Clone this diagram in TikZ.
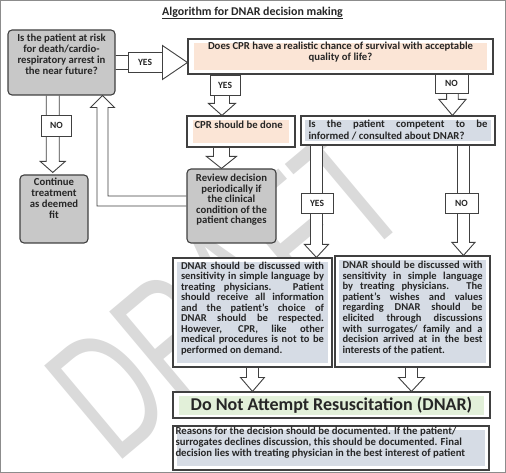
\documentclass[tikz,border=0pt]{standalone}
\usepackage{fontspec}
\setmainfont{Carlito}
\newfontfamily\wmfont{Liberation Sans}
\usetikzlibrary{calc}
\pgfdeclarelayer{wmlayer}
\pgfdeclarelayer{bglayer}
\pgfsetlayers{wmlayer,bglayer,main}
\definecolor{boxline}{HTML}{404040}
\definecolor{grayfill}{HTML}{C8C8C8}
\definecolor{peach}{HTML}{FBE5D6}
\definecolor{bluefill}{HTML}{D6DCE5}
\definecolor{greenfill}{HTML}{E2F0D9}
\definecolor{txt}{HTML}{262626}
\definecolor{wm}{HTML}{DADADA}
\definecolor{framec}{HTML}{8C8C8C}
\newcommand\jl[1]{\makebox[\linewidth][s]{#1}\\}
\newcommand\tb[3]{\parbox[c][#1][t]{#2}{#3}}
% hollow block arrows: start, end, shaft half width, head half width, head length
\newcommand\hdown[5]{\draw[harrow] let \p1=(#1), \p2=(#2) in
  (\x1-#3,\y1) -- (\x1-#3,\y2+#5) -- (\x1-#4,\y2+#5) -- (\x1,\y2) --
  (\x1+#4,\y2+#5) -- (\x1+#3,\y2+#5) -- (\x1+#3,\y1);}
\newcommand\hright[5]{\draw[harrow] let \p1=(#1), \p2=(#2) in
  (\x1,\y1+#3) -- (\x2-#5,\y1+#3) -- (\x2-#5,\y1+#4) -- (\x2,\y1) --
  (\x2-#5,\y1-#4) -- (\x2-#5,\y1-#3) -- (\x1,\y1-#3);}
\tikzset{
  box/.style={draw=boxline, line width=1.1pt, fill=white, inner sep=0pt, text=txt,
    font=\fontsize{10.7}{10.8}\selectfont\bfseries},
  rbox/.style={box, fill=grayfill, rounded corners=4pt},
  lab/.style={draw=boxline, line width=0.9pt, fill=white, inner sep=0pt, text=txt,
    font=\fontsize{9.5}{10}\selectfont\bfseries},
  harrow/.style={draw=boxline, line width=0.9pt, fill=white, line join=miter},
  infill/.style 2 args={path picture={\fill[#1]
    ($(path picture bounding box.south west)+(#2)$) rectangle
    ($(path picture bounding box.north east)-(#2)$);}},
  peachin/.style={infill={peach}{6pt,4pt}},
  bluein/.style={infill={bluefill}{4pt,4pt}},
  greenin/.style={infill={greenfill}{6pt,3.5pt}},
}
\begin{document}
\begin{tikzpicture}[x=1pt,y=-1pt]
\useasboundingbox (0,0) rectangle (506,473);
\draw[framec, line width=0.8pt] (0.6,0.6) rectangle (505.2,472.2);

\begin{pgfonlayer}{wmlayer}
\node[rotate=40, anchor=base west, inner sep=0pt, text=wm,
  font=\wmfont\fontsize{118}{118}\selectfont] (W) at (115,466) {\scalebox{1}[1.5]{DRAFT}};
\end{pgfonlayer}

\node[inner sep=0pt, text=txt, font=\fontsize{11.9}{13}\selectfont\bfseries] (T) at (252.5,13)
  {\underline{Algorithm for DNAR decision making}};

\node[rbox, minimum width=107pt, minimum height=65pt] (A) at (61.5,62.5)
  {\tb{56.4pt}{104pt}{\centering Is the patient at risk\\ for death/cardio-\\ respiratory arrest in\\ the near future?}};

\node[box, peachin, minimum width=305pt, minimum height=35pt] (B) at (340.5,56.5)
  {\tb{29.6pt}{296pt}{\centering\baselineskip=11.5pt Does CPR have a realistic chance of survival with acceptable\\ quality of life?}};

\node[box, peachin, minimum width=108pt, minimum height=31pt] (P) at (241,131.5)
  {\tb{21.6pt}{93pt}{\raggedright CPR should be done}};

\node[rbox, minimum width=89pt, minimum height=74pt] (R) at (231.5,206)
  {\tb{63.4pt}{86pt}{\centering\baselineskip=10.4pt Review decision\\ periodically if\\ the clinical\\ condition of the\\ patient changes}};

\node[rbox, minimum width=68pt, minimum height=68pt] (C) at (54,209)
  {\tb{61.4pt}{66pt}{\centering\baselineskip=10.9pt Continue\\ treatment\\ as deemed\\ fit}};

\node[box, bluein, minimum width=194pt, minimum height=29pt] (K) at (398,130.5)
  {\tb{21pt}{179pt}{\baselineskip=11.7pt\jl{Is the patient competent to be}informed / consulted about DNAR?}};

\node[box, bluein, minimum width=159pt, minimum height=109pt] (DL) at (252.5,312.5)
  {\tb{100.8pt}{143pt}{\fontsize{10.5}{10.5}\selectfont
   \jl{DNAR should be discussed with}\jl{sensitivity in simple language by}\jl{treating physicians. Patient}\jl{should receive all information}\jl{and the patient’s choice of}\jl{DNAR should be respected.}\jl{However, CPR, like other}\jl{medical procedures is not to be}performed on demand.}};

\node[box, bluein, minimum width=155pt, minimum height=111pt] (DR) at (412.5,311.5)
  {\tb{100.8pt}{140pt}{\fontsize{10.5}{10.6}\selectfont
   \jl{DNAR should be discussed with}\jl{sensitivity in simple language}\jl{by treating physicians. The}\jl{patient’s wishes and values}\jl{regarding DNAR should be}\jl{elicited through discussions}\jl{with surrogates/ family and a}\jl{decision arrived at in the best}interests of the patient.}};

\node[box, greenin, minimum width=317pt, minimum height=26pt,
  font=\fontsize{18}{20}\selectfont\bfseries] (G) at (331.5,405)
  {Do Not Attempt Resuscitation (DNAR)};

\node[box, bluein, minimum width=316pt, minimum height=44pt] (S) at (331,448)
  {\tb{42.6pt}{311pt}{\raggedright\baselineskip=11.3pt Reasons for the decision should be documented. If the patient/\\ surrogates declines discussion, this should be documented. Final\\ decision lies with treating physician in the best interest of patient}};

\begin{pgfonlayer}{bglayer}
\hright{A.east}{B.west}{7pt}{17pt}{25pt}
\hdown{$(A.south west)+(45.3pt,0pt)$}{$(C.north)+(0pt,2pt)$}{6.5pt}{12.5pt}{11pt}
\hdown{$(B.south west)+(34.5pt,0pt)$}{P.north}{7.5pt}{13.5pt}{12pt}
\hdown{$(P.south west)+(35pt,0pt)$}{R.north}{8pt}{15pt}{12pt}
\hdown{$(B.south west)+(265pt,0pt)$}{K.north}{5.8pt}{13.5pt}{16pt}
\hdown{$(K.south west)+(16pt,0pt)$}{DL.north}{6pt}{12pt}{13pt}
\hdown{$(K.south west)+(163pt,0pt)$}{DR.north}{6pt}{11.5pt}{13pt}
\hdown{$(DL.south west)+(80pt,0pt)$}{G.north}{6pt}{12pt}{14pt}
\hdown{$(DR.south west)+(77pt,0pt)$}{G.north}{6pt}{13pt}{14pt}
\draw[harrow] let \p1=($(R.west)+(0pt,5pt)$), \p2=($(A.south west)+(95pt,0pt)$) in
  (\x1,\y1+5pt) -- (\x2+5.5pt,\y1+5pt) -- (\x2+5.5pt,\y2-12pt) -- (\x2+12pt,\y2-12pt) --
  (\x2,\y2) -- (\x2-12pt,\y2-12pt) -- (\x2-5.5pt,\y2-12pt) -- (\x2-5.5pt,\y1-5pt) -- (\x1,\y1-5pt);
\end{pgfonlayer}

\node[lab, minimum width=34pt, minimum height=20pt] (y1) at (145,62) {YES};
\node[lab, minimum width=30pt, minimum height=20pt] (y2) at (225,85) {YES};
\node[lab, minimum width=33pt, minimum height=19pt] (n1) at (451.5,83.5) {NO};
\node[lab, minimum width=30pt, minimum height=21pt] (n2) at (56.5,125.5) {NO};
\node[lab, minimum width=32pt, minimum height=20pt] (y3) at (317,203) {YES};
\node[lab, minimum width=33pt, minimum height=20pt] (n3) at (461.5,203) {NO};
\end{tikzpicture}
\end{document}
